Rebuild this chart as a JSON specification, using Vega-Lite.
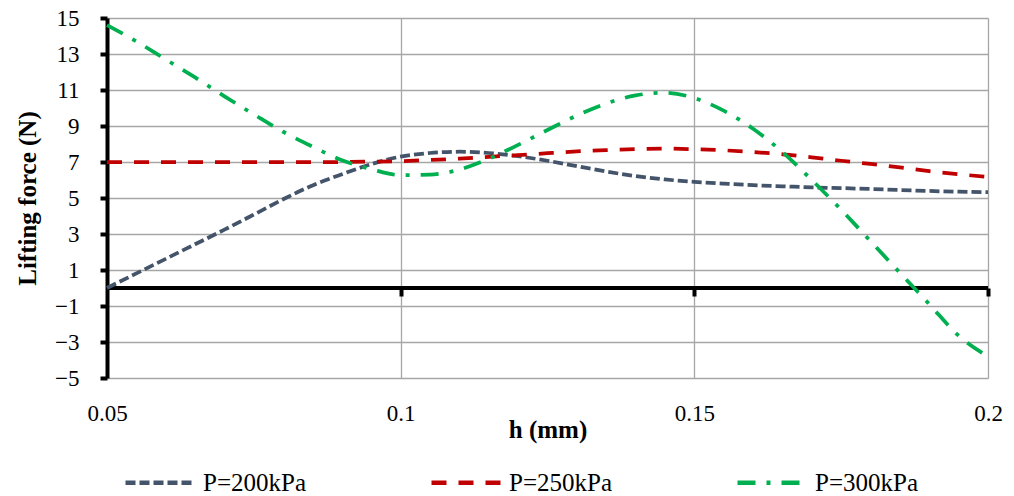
{
  "$schema": "https://vega.github.io/schema/vega-lite/v6.json",
  "width": 881,
  "height": 360,
  "autosize": "none",
  "padding": {"left": 107, "top": 18, "right": 26, "bottom": 118},
  "background": "white",
  "config": {
    "view": {"stroke": null},
    "font": "'Liberation Serif', 'Times New Roman', serif",
    "legend": {"labelFont": "'Liberation Serif', 'Times New Roman', serif"},
    "axis": {"labelFont": "'Liberation Serif', 'Times New Roman', serif", "titleFont": "'Liberation Serif', 'Times New Roman', serif"}
  },
  "datasets": {
    "series": [
      {"h": 0.05, "P": "P=200kPa", "F": 0.0},
      {"h": 0.055, "P": "P=200kPa", "F": 0.81},
      {"h": 0.06, "P": "P=200kPa", "F": 1.62},
      {"h": 0.065, "P": "P=200kPa", "F": 2.43},
      {"h": 0.07, "P": "P=200kPa", "F": 3.24},
      {"h": 0.075, "P": "P=200kPa", "F": 4.08},
      {"h": 0.08, "P": "P=200kPa", "F": 4.93},
      {"h": 0.085, "P": "P=200kPa", "F": 5.7},
      {"h": 0.09, "P": "P=200kPa", "F": 6.32},
      {"h": 0.095, "P": "P=200kPa", "F": 6.88},
      {"h": 0.1, "P": "P=200kPa", "F": 7.3},
      {"h": 0.105, "P": "P=200kPa", "F": 7.5},
      {"h": 0.11, "P": "P=200kPa", "F": 7.57},
      {"h": 0.115, "P": "P=200kPa", "F": 7.5},
      {"h": 0.12, "P": "P=200kPa", "F": 7.32},
      {"h": 0.125, "P": "P=200kPa", "F": 7.07},
      {"h": 0.13, "P": "P=200kPa", "F": 6.77},
      {"h": 0.135, "P": "P=200kPa", "F": 6.47},
      {"h": 0.14, "P": "P=200kPa", "F": 6.22},
      {"h": 0.145, "P": "P=200kPa", "F": 6.03},
      {"h": 0.15, "P": "P=200kPa", "F": 5.9},
      {"h": 0.155, "P": "P=200kPa", "F": 5.8},
      {"h": 0.16, "P": "P=200kPa", "F": 5.71},
      {"h": 0.165, "P": "P=200kPa", "F": 5.65},
      {"h": 0.17, "P": "P=200kPa", "F": 5.59},
      {"h": 0.175, "P": "P=200kPa", "F": 5.55},
      {"h": 0.18, "P": "P=200kPa", "F": 5.5},
      {"h": 0.185, "P": "P=200kPa", "F": 5.44},
      {"h": 0.19, "P": "P=200kPa", "F": 5.39},
      {"h": 0.195, "P": "P=200kPa", "F": 5.35},
      {"h": 0.2, "P": "P=200kPa", "F": 5.32},
      {"h": 0.05, "P": "P=250kPa", "F": 7.0},
      {"h": 0.06, "P": "P=250kPa", "F": 7.0},
      {"h": 0.07, "P": "P=250kPa", "F": 7.0},
      {"h": 0.08, "P": "P=250kPa", "F": 7.0},
      {"h": 0.09, "P": "P=250kPa", "F": 7.0},
      {"h": 0.095, "P": "P=250kPa", "F": 7.02},
      {"h": 0.1, "P": "P=250kPa", "F": 7.05},
      {"h": 0.105, "P": "P=250kPa", "F": 7.11},
      {"h": 0.11, "P": "P=250kPa", "F": 7.19},
      {"h": 0.115, "P": "P=250kPa", "F": 7.29},
      {"h": 0.12, "P": "P=250kPa", "F": 7.38},
      {"h": 0.125, "P": "P=250kPa", "F": 7.49},
      {"h": 0.13, "P": "P=250kPa", "F": 7.59},
      {"h": 0.135, "P": "P=250kPa", "F": 7.66},
      {"h": 0.14, "P": "P=250kPa", "F": 7.72},
      {"h": 0.145, "P": "P=250kPa", "F": 7.74},
      {"h": 0.15, "P": "P=250kPa", "F": 7.71},
      {"h": 0.155, "P": "P=250kPa", "F": 7.65},
      {"h": 0.16, "P": "P=250kPa", "F": 7.55},
      {"h": 0.165, "P": "P=250kPa", "F": 7.43},
      {"h": 0.17, "P": "P=250kPa", "F": 7.26},
      {"h": 0.175, "P": "P=250kPa", "F": 7.07},
      {"h": 0.18, "P": "P=250kPa", "F": 6.89},
      {"h": 0.185, "P": "P=250kPa", "F": 6.7},
      {"h": 0.19, "P": "P=250kPa", "F": 6.49},
      {"h": 0.195, "P": "P=250kPa", "F": 6.32},
      {"h": 0.2, "P": "P=250kPa", "F": 6.17},
      {"h": 0.05, "P": "P=300kPa", "F": 14.6},
      {"h": 0.055, "P": "P=300kPa", "F": 13.7},
      {"h": 0.06, "P": "P=300kPa", "F": 12.7},
      {"h": 0.065, "P": "P=300kPa", "F": 11.7},
      {"h": 0.07, "P": "P=300kPa", "F": 10.65},
      {"h": 0.075, "P": "P=300kPa", "F": 9.65},
      {"h": 0.08, "P": "P=300kPa", "F": 8.68},
      {"h": 0.085, "P": "P=300kPa", "F": 7.85},
      {"h": 0.09, "P": "P=300kPa", "F": 7.1},
      {"h": 0.095, "P": "P=300kPa", "F": 6.6},
      {"h": 0.1, "P": "P=300kPa", "F": 6.27},
      {"h": 0.105, "P": "P=300kPa", "F": 6.3},
      {"h": 0.11, "P": "P=300kPa", "F": 6.58},
      {"h": 0.115, "P": "P=300kPa", "F": 7.18},
      {"h": 0.12, "P": "P=300kPa", "F": 7.95},
      {"h": 0.125, "P": "P=300kPa", "F": 8.78},
      {"h": 0.13, "P": "P=300kPa", "F": 9.58},
      {"h": 0.135, "P": "P=300kPa", "F": 10.25},
      {"h": 0.14, "P": "P=300kPa", "F": 10.7},
      {"h": 0.145, "P": "P=300kPa", "F": 10.85},
      {"h": 0.15, "P": "P=300kPa", "F": 10.55},
      {"h": 0.155, "P": "P=300kPa", "F": 9.85},
      {"h": 0.16, "P": "P=300kPa", "F": 8.85},
      {"h": 0.165, "P": "P=300kPa", "F": 7.55},
      {"h": 0.17, "P": "P=300kPa", "F": 6.0},
      {"h": 0.175, "P": "P=300kPa", "F": 4.35},
      {"h": 0.18, "P": "P=300kPa", "F": 2.6},
      {"h": 0.185, "P": "P=300kPa", "F": 0.85},
      {"h": 0.19, "P": "P=300kPa", "F": -0.9},
      {"h": 0.195, "P": "P=300kPa", "F": -2.65},
      {"h": 0.2, "P": "P=300kPa", "F": -3.8}
    ],
    "zero": [{"level": 0}]
  },
  "layer": [
    {
      "data": {"name": "zero"},
      "mark": {"type": "rule", "color": "black", "strokeWidth": 4},
      "encoding": {
        "x": {
          "datum": 0.05,
          "type": "quantitative",
          "scale": {"domain": [0.05, 0.2], "nice": false, "zero": false},
          "axis": {
            "orient": "bottom",
            "offset": -90,
            "values": [0.1, 0.15, 0.2],
            "domain": false,
            "grid": false,
            "labels": false,
            "ticks": true,
            "tickSize": 8,
            "tickWidth": 4,
            "tickColor": "black",
            "title": null
          }
        },
        "x2": {"datum": 0.2},
        "y": {
          "field": "level",
          "type": "quantitative",
          "scale": {"domain": [-5, 15], "nice": false, "zero": false},
          "axis": {
            "values": [-5, -3, -1, 1, 3, 5, 7, 9, 11, 13, 15],
            "labelOverlap": false,
            "domain": true,
            "domainColor": "black",
            "domainWidth": 4,
            "ticks": true,
            "tickSize": 7,
            "tickWidth": 4,
            "tickColor": "black",
            "grid": true,
            "gridColor": "#A6A6A6",
            "gridWidth": 1.3,
            "labelFontSize": 23,
            "labelColor": "black",
            "labelPadding": 21,
            "labelFlush": false,
            "title": "Lifting force (N)",
            "titleFontSize": 25,
            "titleFontWeight": "bold",
            "titleColor": "black",
            "titlePadding": 14
          }
        }
      }
    },
    {
      "data": {"name": "series"},
      "mark": {"type": "line", "strokeWidth": 3.75, "interpolate": "monotone"},
      "encoding": {
        "x": {
          "field": "h",
          "type": "quantitative",
          "scale": {"domain": [0.05, 0.2], "nice": false, "zero": false},
          "axis": {
            "orient": "bottom",
            "values": [0.05, 0.1, 0.15, 0.2],
            "format": "~g",
            "labelOverlap": false,
            "domain": false,
            "ticks": false,
            "grid": true,
            "gridColor": "#A6A6A6",
            "gridWidth": 1.3,
            "labelFontSize": 23,
            "labelColor": "black",
            "labelPadding": 24,
            "labelFlush": false,
            "title": "h (mm)",
            "titleFontSize": 25,
            "titleFontWeight": "bold",
            "titleColor": "black",
            "titlePadding": -8
          }
        },
        "y": {
          "field": "F",
          "type": "quantitative",
          "scale": {"domain": [-5, 15], "nice": false, "zero": false},
          "axis": {
            "values": [-5, -3, -1, 1, 3, 5, 7, 9, 11, 13, 15],
            "labelOverlap": false,
            "domain": true,
            "domainColor": "black",
            "domainWidth": 4,
            "ticks": true,
            "tickSize": 7,
            "tickWidth": 4,
            "tickColor": "black",
            "grid": true,
            "gridColor": "#A6A6A6",
            "gridWidth": 1.3,
            "labelFontSize": 23,
            "labelColor": "black",
            "labelPadding": 21,
            "labelFlush": false,
            "title": "Lifting force (N)",
            "titleFontSize": 25,
            "titleFontWeight": "bold",
            "titleColor": "black",
            "titlePadding": 14
          }
        },
        "color": {
          "field": "P",
          "type": "nominal",
          "scale": {
            "domain": ["P=200kPa", "P=250kPa", "P=300kPa"],
            "range": ["#44546A", "#C00000", "#00B050"]
          },
          "legend": {
            "title": null,
            "orient": "none",
            "legendX": 16,
            "legendY": 427,
            "direction": "horizontal",
            "symbolType": "stroke",
            "symbolSize": 4900,
            "symbolStrokeWidth": 4.5,
            "labelFontSize": 25,
            "labelColor": "black",
            "labelOffset": 5,
            "columnPadding": 115
          }
        },
        "strokeDash": {
          "field": "P",
          "type": "nominal",
          "scale": {
            "domain": ["P=200kPa", "P=250kPa", "P=300kPa"],
            "range": [[10, 4], [15, 12], [18, 11, 4, 11]]
          },
          "legend": {
            "title": null,
            "orient": "none",
            "legendX": 16,
            "legendY": 427,
            "direction": "horizontal",
            "symbolType": "stroke",
            "symbolSize": 4900,
            "symbolStrokeWidth": 4.5,
            "labelFontSize": 25,
            "labelColor": "black",
            "labelOffset": 5,
            "columnPadding": 115
          }
        }
      }
    }
  ],
  "resolve": {"axis": {"x": "independent"}}
}
